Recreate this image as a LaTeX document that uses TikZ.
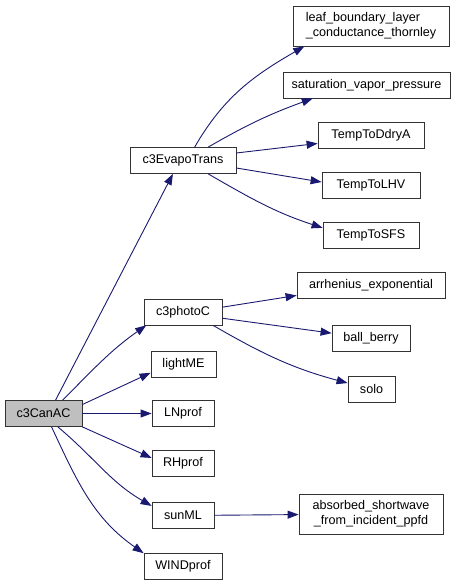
\documentclass[tikz,border=0pt]{standalone}
\usepackage{fontspec}
\setmainfont{Liberation Sans}
\usetikzlibrary{arrows.meta}
\definecolor{edgeblue}{HTML}{191970}

\begin{document}
\begin{tikzpicture}[x=1pt, y=1pt, >={Stealth[inset=0pt,length=11pt,width=8pt]},
    fn/.style={draw=black!80, fill=white, line width=0.8pt, minimum height=26pt, inner sep=2pt, font=\fontsize{12.6}{15}\selectfont},
    root/.style={fn, fill=black!25},
    call/.style={->, draw=edgeblue, line width=0.9pt}]
    \useasboundingbox (0,0) rectangle (464,-585);
    \node[root, minimum width=77pt] (c3canac) at (43.5,-413.5) {c3CanAC};
    \node[fn, minimum width=106pt] (c3evapo) at (183,-160.5) {c3EvapoTrans};
    \node[fn, minimum width=156pt, minimum height=40pt, align=left] (leafbl) at (371,-26) {leaf\_boundary\_layer\\\_conductance\_thornley};
    \node[fn, minimum width=167pt] (satvp) at (366.5,-85) {saturation\_vapor\_pressure};
    \node[fn, minimum width=106pt] (ddrya) at (371,-135) {TempToDdryA};
    \node[fn, minimum width=98pt] (lhv) at (371,-185.5) {TempToLHV};
    \node[fn, minimum width=96pt] (sfs) at (371,-235.5) {TempToSFS};
    \node[fn, minimum width=78pt] (c3photo) at (183,-312) {c3photoC};
    \node[fn, minimum width=148pt] (arrh) at (371,-285) {arrhenius\_exponential};
    \node[fn, minimum width=78pt] (ballb) at (371,-338) {ball\_berry};
    \node[fn, minimum width=47pt] (solo) at (371.5,-389) {solo};
    \node[fn, minimum width=65pt] (lightme) at (183.5,-364) {lightME};
    \node[fn, minimum width=62pt] (lnprof) at (183,-413.5) {LNprof};
    \node[fn, minimum width=62pt] (rhprof) at (183,-463.5) {RHprof};
    \node[fn, minimum width=62pt] (sunml) at (183,-515.5) {sunML};
    \node[fn, minimum width=144pt, minimum height=40pt, align=center] (absorbed) at (371,-514) {absorbed\_shortwave\\\_from\_incident\_ppfd};
    \node[fn, minimum width=78pt] (windprof) at (183,-566) {WINDprof};
    \draw[call] (c3canac.48) -- (c3evapo.233);
    \draw[call] (c3canac.35) to[out=45,in=215] (c3photo.200);
    \draw[call] (c3canac.13) -- (lightme.195);
    \draw[call] (c3canac) -- (lnprof);
    \draw[call] (c3canac.-19) -- (rhprof.170);
    \draw[call] (c3canac.-43) to[out=-40,in=150] (sunml.163);
    \draw[call] (c3canac.-59) to[out=-65,in=145] (windprof.162);
    \draw[call] (c3evapo.49) to[out=60,in=210] (leafbl.197);
    \draw[call] (c3evapo.28) to[out=30,in=200] (satvp.194);
    \draw[call] (c3evapo.8) -- (ddrya.189);
    \draw[call] (c3evapo.-8) -- (lhv.176);
    \draw[call] (c3evapo.-28) to[out=-30,in=162] (sfs.171);
    \draw[call] (c3photo.7) -- (arrh.188);
    \draw[call] (c3photo.-9) -- (ballb.173);
    \draw[call] (c3photo.-24) to[out=-30,in=165] (solo.166);
    \draw[call] (sunml) -- (absorbed);
\end{tikzpicture}
\end{document}
